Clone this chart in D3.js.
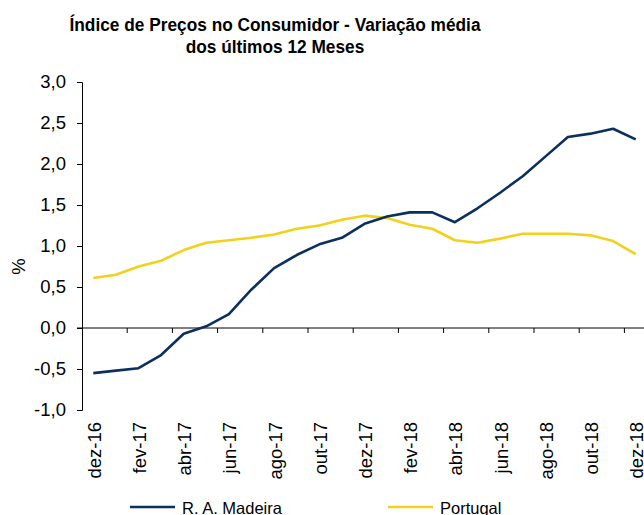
<!DOCTYPE html>
<html>
<head>
<meta charset="utf-8">
<script src="https://cdn.jsdelivr.net/npm/d3@7"></script>
<style>
  html, body { margin: 0; padding: 0; background: #fff; }
  svg { display: block; }
</style>
</head>
<body>
<div id="chart"></div>
<script>
// meses (dez-16 a dez-18)
const months = ['dez-16', 'jan-17', 'fev-17', 'mar-17', 'abr-17', 'mai-17', 'jun-17',
  'jul-17', 'ago-17', 'set-17', 'out-17', 'nov-17', 'dez-17', 'jan-18', 'fev-18',
  'mar-18', 'abr-18', 'mai-18', 'jun-18', 'jul-18', 'ago-18', 'set-18', 'out-18',
  'nov-18', 'dez-18'];

const madeira = [-0.55, -0.52, -0.49, -0.33, -0.07, 0.02, 0.17, 0.47, 0.73, 0.89,
  1.02, 1.10, 1.27, 1.36, 1.41, 1.41, 1.29, 1.46, 1.65, 1.85, 2.09, 2.33, 2.37,
  2.43, 2.30];

const portugal = [0.61, 0.65, 0.75, 0.82, 0.95, 1.04, 1.07, 1.10, 1.14, 1.21,
  1.25, 1.32, 1.37, 1.34, 1.26, 1.21, 1.07, 1.04, 1.09, 1.15, 1.15, 1.15, 1.13,
  1.06, 0.90];

const yTicks = [-1, -0.5, 0, 0.5, 1, 1.5, 2, 2.5, 3];

const series = [
  { name: 'R. A. Madeira', values: madeira, color: '#0b2f5e' },
  { name: 'Portugal', values: portugal, color: '#f2d11c' }
];

const width = 644,
  height = 515;

const font = '"Liberation Sans", Arial, sans-serif';
const fs = 18.5;

// escala de categorias (uma banda por mês)
const x = d3.scaleBand()
  .domain(months)
  .range([82, 82 + 22.6 * months.length]);

const y = d3.scaleLinear()
  .domain([-1, 3])
  .range([410, 82]);

const fmt = v => d3.format('.1f')(v).replace('.', ',').replace('\u2212', '-');

const svg = d3.select('#chart').append('svg')
  .attr('width', width)
  .attr('height', height)
  .style('font-family', font);

// título
const title = svg.append('text')
  .attr('transform', 'translate(275,0) scale(0.935,1)')
  .attr('text-anchor', 'middle')
  .attr('font-weight', 'bold')
  .attr('font-size', fs)
  .attr('fill', '#000');
title.append('tspan').attr('x', 0).attr('y', 31.5).text('Índice de Preços no Consumidor - Variação média');
title.append('tspan').attr('x', 0).attr('y', 53.5).text('dos últimos 12 Meses');

// eixo y
const yAxis = svg.append('g')
  .attr('transform', 'translate(82,0)')
  .call(d3.axisLeft(y).tickValues(yTicks).tickFormat(fmt).tickSize(5).tickPadding(11));
yAxis.select('.domain').attr('stroke', '#000');
yAxis.selectAll('.tick line').attr('stroke', '#000');
yAxis.selectAll('.tick text')
  .attr('font-size', fs)
  .attr('font-family', font)
  .attr('fill', '#000');

svg.append('text')
  .attr('transform', `translate(25,${y(0.75)}) rotate(-90)`)
  .attr('text-anchor', 'middle')
  .attr('font-size', fs)
  .text('%');

// eixo x em y = 0, marcas entre categorias de 2 em 2 meses
const xg = svg.append('g');
xg.append('line')
  .attr('x1', 77)
  .attr('x2', x.range()[1])
  .attr('y1', y(0))
  .attr('y2', y(0))
  .attr('stroke', '#000');

xg.selectAll('line.tk')
  .data(d3.range(2, months.length, 2))
  .enter().append('line')
  .attr('class', 'tk')
  .attr('x1', i => x(months[i]))
  .attr('x2', i => x(months[i]))
  .attr('y1', y(0))
  .attr('y2', y(0) + 5)
  .attr('stroke', '#000');

// rótulos de meses
svg.append('g').selectAll('text')
  .data(months.filter((d, i) => i % 2 === 0))
  .enter().append('text')
  .attr('transform', d => `translate(${x(d) + x.bandwidth() / 2 + 7.5},422) rotate(-90)`)
  .attr('text-anchor', 'end')
  .attr('font-size', fs)
  .attr('fill', '#000')
  .text(d => d);

// linhas
const line = d3.line()
  .x((d, i) => x(months[i]) + x.bandwidth() / 2)
  .y(d => y(d));

svg.append('g').selectAll('path')
  .data(series.slice().reverse())
  .enter().append('path')
  .attr('fill', 'none')
  .attr('stroke', d => d.color)
  .attr('stroke-width', 2.6)
  .attr('stroke-linejoin', 'round')
  .attr('d', d => line(d.values));

// legenda
const legendX = [130, 388];
const legend = svg.append('g').selectAll('g')
  .data(series)
  .enter().append('g')
  .attr('transform', (d, i) => `translate(${legendX[i]},507)`);
legend.append('line')
  .attr('x1', 0).attr('x2', 45)
  .attr('stroke', d => d.color)
  .attr('stroke-width', 2.6);
legend.append('text')
  .attr('x', 52)
  .attr('y', 7)
  .attr('font-size', 16.5)
  .attr('fill', '#000')
  .text(d => d.name);
</script>
</body>
</html>
